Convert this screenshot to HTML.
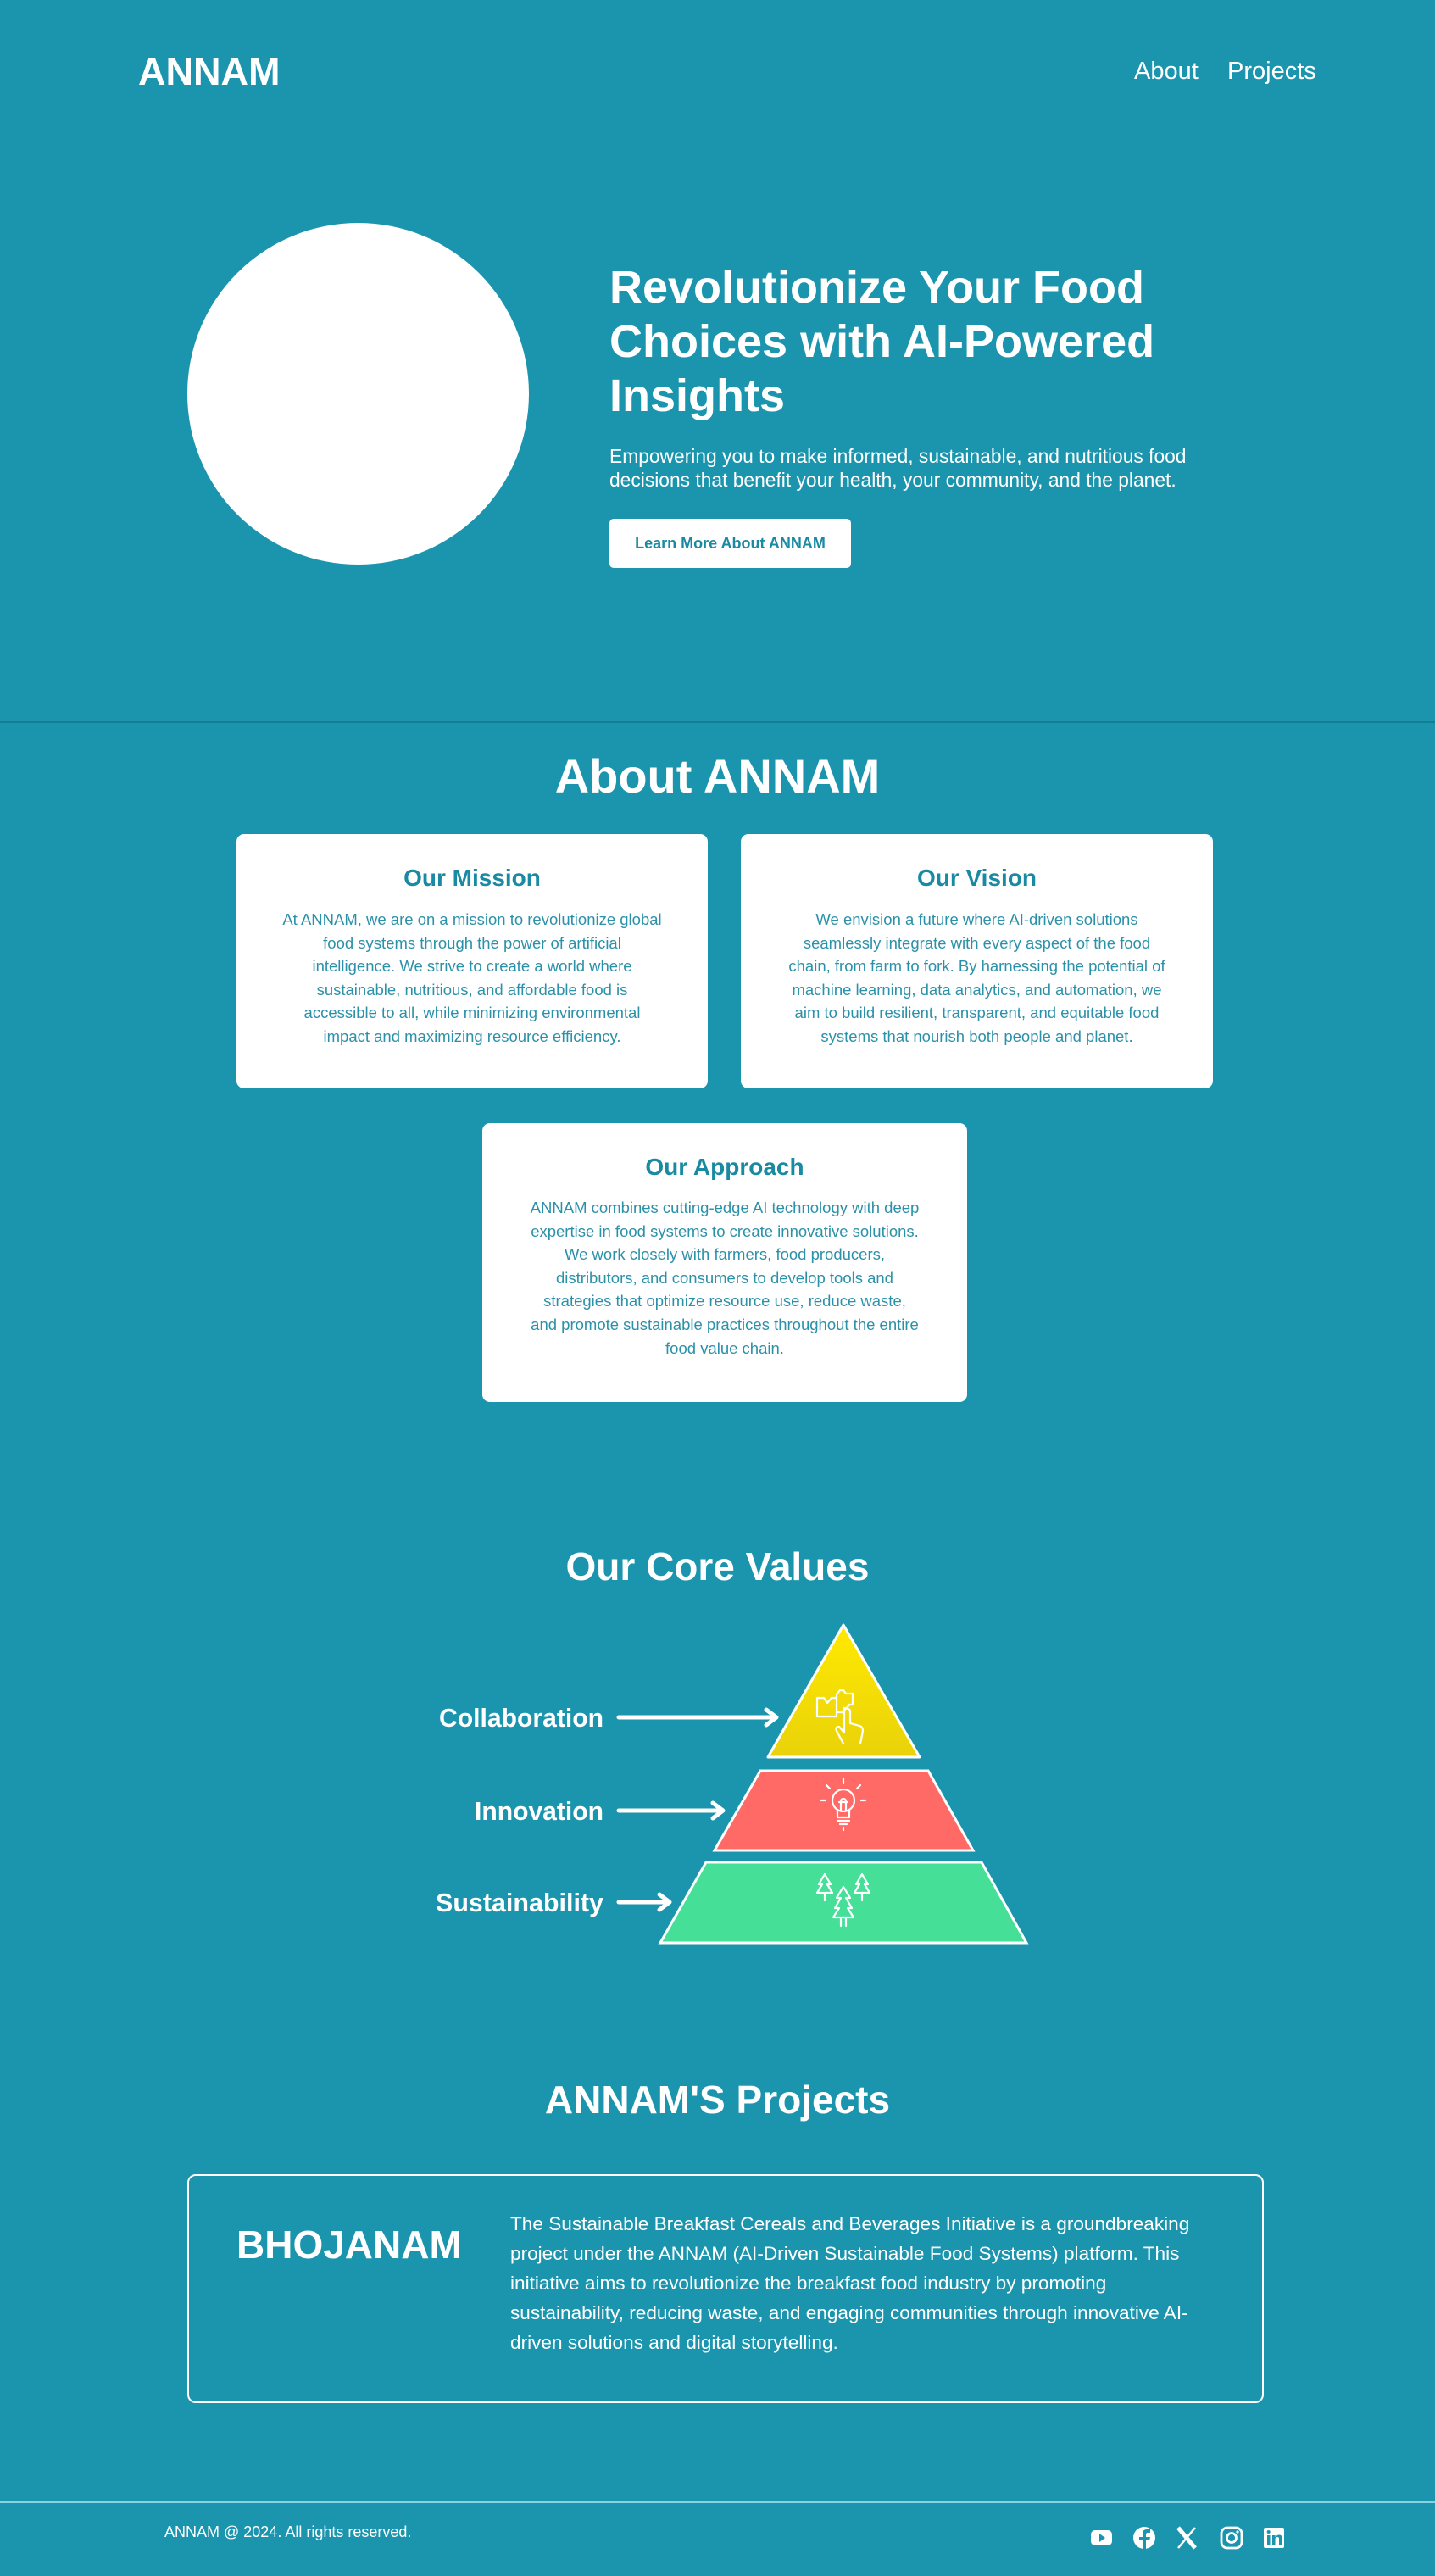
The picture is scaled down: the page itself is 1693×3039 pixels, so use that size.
<!DOCTYPE html>
<html><head><meta charset="utf-8">
<style>
*{margin:0;padding:0;box-sizing:border-box}
html,body{width:1693px;height:3039px;background:#1b95ad;overflow:hidden}
body{position:relative;font-family:"Liberation Sans",Arial,sans-serif;color:#fff}
.a{position:absolute}
.card{position:absolute;background:#fff;border-radius:9px;text-align:center}
.card h3{position:absolute;left:0;right:0;font-size:28px;font-weight:bold;color:#1a8aa3;line-height:34px}
.card p{position:absolute;left:0;right:0;font-size:18.5px;line-height:27.6px;color:#2b91a9}
.h2{position:absolute;left:0;width:1693px;text-align:center;font-weight:bold}
</style></head><body>
<div class="a" style="left:163px;top:58px;font-size:45px;font-weight:bold;line-height:54px">ANNAM</div>
<div class="a" style="left:1338px;top:67px;font-size:29px;line-height:34px">About</div>
<div class="a" style="left:1448px;top:67px;font-size:29px;line-height:34px">Projects</div>

<div class="a" style="left:221px;top:263px;width:403px;height:403px;border-radius:50%;background:#fff"></div>
<div class="a" style="left:719px;top:307px;font-size:54px;font-weight:bold;line-height:64px;width:900px">Revolutionize Your Food<br>Choices with AI-Powered<br>Insights</div>
<div class="a" style="left:719px;top:524px;font-size:22.8px;line-height:28px;width:900px">Empowering you to make informed, sustainable, and nutritious food<br>decisions that benefit your health, your community, and the planet.</div>
<div class="a" style="left:719px;top:612px;width:285px;height:58px;background:#fff;border-radius:5px;color:#1a8aa3;font-size:18px;font-weight:bold;line-height:58px;text-align:center">Learn More About ANNAM</div>

<div class="a" style="left:0;top:851px;width:1693px;height:2px;background:#137d93"></div>

<div class="h2" style="top:882px;font-size:56px;line-height:68px">About ANNAM</div>

<div class="card" style="left:279px;top:984px;width:556px;height:300px">
<h3 style="top:35px">Our Mission</h3>
<p style="top:87px">At ANNAM, we are on a mission to revolutionize global<br>food systems through the power of artificial<br>intelligence. We strive to create a world where<br>sustainable, nutritious, and affordable food is<br>accessible to all, while minimizing environmental<br>impact and maximizing resource efficiency.</p>
</div>
<div class="card" style="left:874px;top:984px;width:557px;height:300px">
<h3 style="top:35px">Our Vision</h3>
<p style="top:87px">We envision a future where AI-driven solutions<br>seamlessly integrate with every aspect of the food<br>chain, from farm to fork. By harnessing the potential of<br>machine learning, data analytics, and automation, we<br>aim to build resilient, transparent, and equitable food<br>systems that nourish both people and planet.</p>
</div>
<div class="card" style="left:569px;top:1325px;width:572px;height:329px">
<h3 style="top:35px">Our Approach</h3>
<p style="top:86px">ANNAM combines cutting-edge AI technology with deep<br>expertise in food systems to create innovative solutions.<br>We work closely with farmers, food producers,<br>distributors, and consumers to develop tools and<br>strategies that optimize resource use, reduce waste,<br>and promote sustainable practices throughout the entire<br>food value chain.</p>
</div>

<div class="h2" style="top:1820px;font-size:46px;line-height:56px">Our Core Values</div>

<svg class="a" style="left:0;top:0" width="1693" height="3039" viewBox="0 0 1693 3039">
<defs><linearGradient id="yg" x1="0" y1="0" x2="0" y2="1"><stop offset="0" stop-color="#ffe900"/><stop offset="1" stop-color="#e9d20a"/></linearGradient></defs>
<polygon points="995,1917 1085,2073 906,2073" fill="url(#yg)" stroke="#fff" stroke-width="3" stroke-linejoin="round"/>
<polygon points="897,2089 1095,2089 1148,2183 843,2183" fill="#ff6a66" stroke="#fff" stroke-width="3"/>
<polygon points="833,2197 1158,2197 1211,2292 779,2292" fill="#45df98" stroke="#fff" stroke-width="3"/>
<g font-family="Liberation Sans,Arial,sans-serif" font-weight="bold" font-size="31" fill="#fff" text-anchor="end">
<text x="712" y="2037" textLength="194" lengthAdjust="spacingAndGlyphs">Collaboration</text>
<text x="712" y="2147" textLength="152" lengthAdjust="spacingAndGlyphs">Innovation</text>
<text x="712" y="2255" textLength="198" lengthAdjust="spacingAndGlyphs">Sustainability</text>
</g>
<g stroke="#fff" stroke-width="5" fill="none" stroke-linecap="round" stroke-linejoin="round">
<path d="M730,2026 H915 M904,2017 L916,2026 L904,2035"/>
<path d="M730,2136 H852 M841,2127 L853,2136 L841,2145"/>
<path d="M730,2244 H789 M778,2235 L790,2244 L778,2253"/>
</g>
<g stroke="#fff" stroke-width="2.2" fill="none" stroke-linecap="round" stroke-linejoin="round">
<!-- puzzle + hand -->
<path d="M964,2003 h8 l4,6 l5,-6 h6 v22 h-23 z"/>
<path d="M987,2003 v-4 l4,-5 h4 l3,4 h8 v13 h-4 l-3,4 h-4 v5 h-8"/>
<path d="M995,2057 l-8,-15 q-2,-5 3,-5 l6,7 v-26 q3,-5 7,0 v15 l11,3 q4,1 4,6 l-3,15"/>
<!-- bulb -->
<circle cx="995" cy="2124" r="13"/>
<path d="M988,2135 v9 h14 v-9 M988,2148 h14 M991,2152 h8 M995,2156 v3 M992,2136 v-10 q0,-4 3,-4 q3,0 3,4 v10 M990,2126 h10"/>
<path d="M995,2104 v-6 M979,2110 l-4,-4 M1011,2110 l4,-4 M974,2124 h-5 M1016,2124 h5"/>
<!-- trees -->
<path d="M973,2211 l-7,12 h4 l-6,10 h18 l-6,-10 h4 z M973,2233 v9"/>
<path d="M1017,2211 l-7,12 h4 l-6,10 h18 l-6,-10 h4 z M1017,2233 v9"/>
<path d="M995,2226 l-8,13 h5 l-7,12 h5 l-7,11 h24 l-7,-11 h5 l-7,-12 h5 z M992,2262 v10 M998,2262 v10"/>
</g>
</svg>

<div class="h2" style="top:2449px;font-size:46px;line-height:56px">ANNAM'S Projects</div>

<div class="a" style="left:221px;top:2565px;width:1270px;height:270px;border:2.5px solid #fff;border-radius:10px"></div>
<div class="a" style="left:279px;top:2622px;font-size:46px;font-weight:bold;line-height:52px">BHOJANAM</div>
<div class="a" style="left:602px;top:2606px;font-size:22.6px;line-height:35px;width:880px">The Sustainable Breakfast Cereals and Beverages Initiative is a groundbreaking<br>project under the ANNAM (AI-Driven Sustainable Food Systems) platform. This<br>initiative aims to revolutionize the breakfast food industry by promoting<br>sustainability, reducing waste, and engaging communities through innovative AI-<br>driven solutions and digital storytelling.</div>

<div class="a" style="left:0;top:2951px;width:1693px;height:2px;background:#8ad2e0"></div>
<div class="a" style="left:194px;top:2976px;font-size:18px;line-height:22px">ANNAM @ 2024. All rights reserved.</div>
<svg class="a" style="left:1280px;top:2978px" width="240" height="32" viewBox="0 0 240 32">
<rect x="7" y="7" width="25" height="18" rx="5" fill="#fff"/><polygon points="17,11 24,16 17,21" fill="#1b95ad"/>
<circle cx="70" cy="16" r="13" fill="#fff"/><path d="M72,30 v-11 h4 l1,-4 h-5 v-3 q0,-2 2,-2 h3 v-4 h-4 q-5,0 -5,5 v4 h-4 v4 h4 v11" fill="#1b95ad"/>
<path d="M110,4 L130,28 M130,4 L110,28" stroke="#fff" stroke-width="2.5"/><path d="M110,4 L130,28" stroke="#fff" stroke-width="5"/>
<rect x="161" y="4" width="24" height="24" rx="7" fill="none" stroke="#fff" stroke-width="2.8"/><circle cx="173" cy="16" r="5.5" fill="none" stroke="#fff" stroke-width="2.8"/><circle cx="180" cy="9" r="1.6" fill="#fff"/>
<rect x="211" y="4" width="24" height="24" rx="2" fill="#fff"/><rect x="215" y="13" width="3.5" height="11" fill="#1b95ad"/><circle cx="216.7" cy="9" r="2" fill="#1b95ad"/><path d="M221,24 v-11 h3.5 v2 q2,-2.5 5,-2.5 q3,0 3,4 v7.5 h-3.5 v-7 q0,-2 -1.8,-2 q-2.2,0 -2.7,2 v7 z" fill="#1b95ad"/>
</svg>
</body></html>
